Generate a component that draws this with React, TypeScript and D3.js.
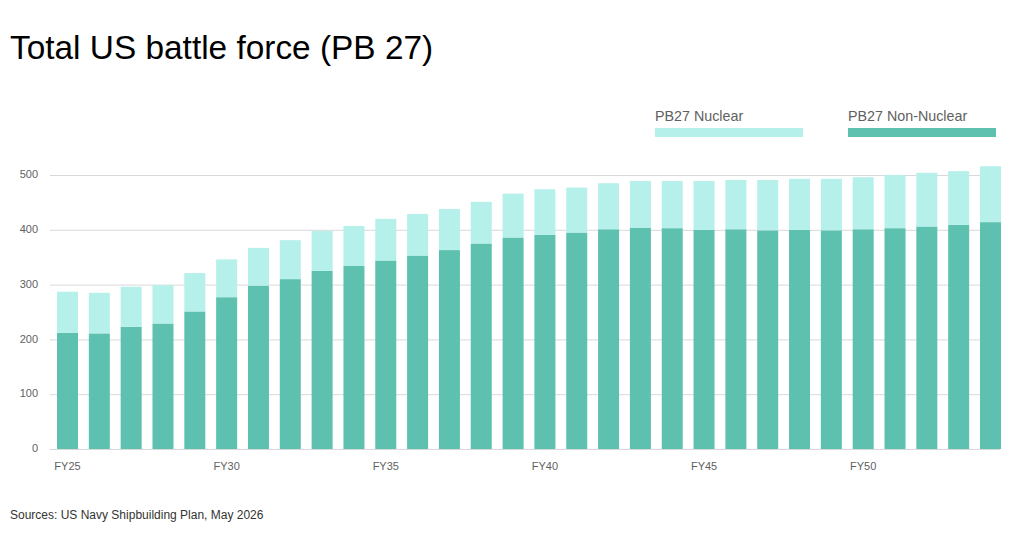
import React, { useEffect, useRef } from 'react';
import * as d3 from 'd3';

// fiscal years FY25..FY54
const years = [
  'FY25', 'FY26', 'FY27', 'FY28', 'FY29', 'FY30', 'FY31', 'FY32', 'FY33', 'FY34',
  'FY35', 'FY36', 'FY37', 'FY38', 'FY39', 'FY40', 'FY41', 'FY42', 'FY43', 'FY44',
  'FY45', 'FY46', 'FY47', 'FY48', 'FY49', 'FY50', 'FY51', 'FY52', 'FY53', 'FY54',
];
const nonNuclear = [
  212, 211, 223, 229, 251, 277, 298, 310, 325, 334,
  344, 353, 363, 375, 386, 391, 395, 401, 404, 403,
  400, 401, 399, 400, 399, 401, 403, 406, 409, 414,
];
const nuclear = [
  75, 74, 73, 70, 70, 69, 69, 71, 73, 73,
  76, 76, 75, 76, 80, 83, 82, 84, 85, 86,
  89, 90, 92, 93, 94, 95, 97, 98, 98, 102,
];
const xTickLabels = ['FY25', 'FY30', 'FY35', 'FY40', 'FY45', 'FY50'];
const yTicks = [0, 100, 200, 300, 400, 500];

const DARK = '#5ec1b0';
const LIGHT = '#b5f0eb';
const AXIS_TEXT = '#5f5f5f';

const App = () => {
  const svgRef = useRef<SVGSVGElement>(null);

  useEffect(() => {
    const width = 1024;
    const height = 549;
    const svg = d3.select(svgRef.current)
      .attr('width', width)
      .attr('height', height);
    svg.selectAll('*').remove();

    const x = d3.scaleBand<string>()
      .domain(years)
      .range([50, 1008])
      .paddingInner(0.34)
      .paddingOuter(0.22);

    const y = d3.scaleLinear()
      .domain([0, 500])
      .range([449, 175]);

    // title
    svg.append('text')
      .attr('x', 10)
      .attr('y', 59)
      .style('font-family', 'Liberation Sans, Arial, sans-serif')
      .style('font-size', '33.4px')
      .style('fill', '#000')
      .text('Total US battle force (PB 27)');

    // gridlines + y labels
    const yAxis = d3.axisLeft(y)
      .tickValues(yTicks)
      .tickSize(-950)
      .tickPadding(12)
      .tickFormat(d3.format('d'));

    const gy = svg.append('g')
      .attr('transform', 'translate(50,0)')
      .call(yAxis);
    gy.select('.domain').remove();
    gy.selectAll('line').attr('stroke', '#d9d9d9').attr('stroke-width', 1);
    gy.selectAll('text')
      .attr('dy', '0.25em')
      .style('font-family', 'Liberation Sans, Arial, sans-serif')
      .style('font-size', '11px')
      .style('fill', AXIS_TEXT);

    // stacked bars
    const table = years.map((yr, i) => ({
      year: yr,
      nonNuclear: nonNuclear[i],
      nuclear: nuclear[i],
    }));
    const series = d3.stack<any>().keys(['nonNuclear', 'nuclear'])(table);
    const colors: Record<string, string> = { nonNuclear: DARK, nuclear: LIGHT };

    svg.append('g')
      .selectAll('g')
      .data(series)
      .enter().append('g')
      .attr('fill', d => colors[d.key])
      .selectAll('rect')
      .data(d => d)
      .enter().append('rect')
      .attr('x', d => x(d.data.year) as number)
      .attr('y', d => y(d[1]))
      .attr('width', x.bandwidth())
      .attr('height', d => y(d[0]) - y(d[1]));

    // x labels
    const xAxis = d3.axisBottom(x)
      .tickValues(xTickLabels)
      .tickSize(0)
      .tickPadding(13);
    const gx = svg.append('g')
      .attr('transform', 'translate(0,449)')
      .call(xAxis);
    gx.select('.domain').remove();
    gx.selectAll('text')
      .style('font-family', 'Liberation Sans, Arial, sans-serif')
      .style('font-size', '11px')
      .style('fill', AXIS_TEXT);

    // legend
    const legendItems = [
      { label: 'PB27 Nuclear', color: LIGHT, x: 655 },
      { label: 'PB27 Non-Nuclear', color: DARK, x: 848 },
    ];
    const lg = svg.append('g');
    legendItems.forEach(item => {
      lg.append('text')
        .attr('x', item.x)
        .attr('y', 121)
        .style('font-family', 'Liberation Sans, Arial, sans-serif')
        .style('font-size', '14.3px')
        .style('fill', AXIS_TEXT)
        .text(item.label);
      lg.append('rect')
        .attr('x', item.x)
        .attr('y', 128)
        .attr('width', 148)
        .attr('height', 9)
        .attr('fill', item.color);
    });

    // source note
    svg.append('text')
      .attr('x', 10)
      .attr('y', 519)
      .style('font-family', 'Liberation Sans, Arial, sans-serif')
      .style('font-size', '12px')
      .style('fill', '#333')
      .text('Sources: US Navy Shipbuilding Plan, May 2026');
  }, []);

  return (
    <svg ref={svgRef} style={{ position: 'absolute', left: 0, top: 0, background: '#fff' }}></svg>
  );
};

export default App;
